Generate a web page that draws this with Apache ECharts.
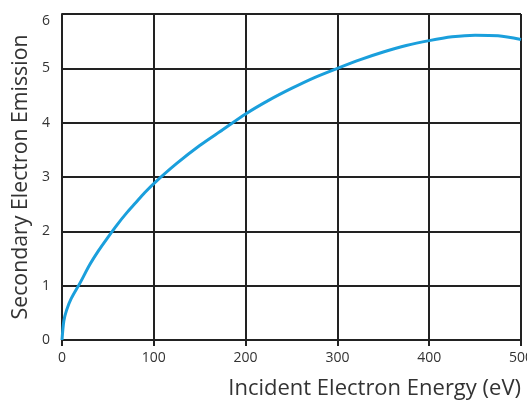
<!DOCTYPE html>
<html>
<head>
<meta charset="utf-8">
<script src="https://cdn.jsdelivr.net/npm/echarts@6/dist/echarts.min.js"></script>
<style>html,body{margin:0;padding:0;background:#fff;}#c{width:527px;height:403px;}</style>
</head>
<body>
<div id="c"></div>
<script>
const energy = [0, 2, 5, 10, 20, 30, 40, 50, 60, 70, 80, 90, 100, 125, 150, 175, 200, 225, 250, 275, 300, 325, 350, 375, 400, 425, 450, 475, 500];
const emission = [0, 0.35, 0.55, 0.76, 1.06, 1.38, 1.65, 1.89, 2.12, 2.33, 2.52, 2.71, 2.88, 3.25, 3.58, 3.87, 4.16, 4.41, 4.63, 4.83, 5.0, 5.16, 5.30, 5.42, 5.51, 5.58, 5.61, 5.60, 5.53];
const xTitle = 'Incident Electron Energy (eV)';
const yTitle = 'Secondary Electron Emission';

const chart = echarts.init(document.getElementById('c'));
const font = '"Open Sans", "Noto Sans", sans-serif';
chart.setOption({
  animation: false,
  grid: { left: 62, right: 6, top: 14, bottom: 63, containLabel: false, outerBoundsMode: 'none' },
  xAxis: {
    type: 'value', min: 0, max: 500, interval: 100,
    name: xTitle, nameLocation: 'end', nameGap: 0,
    nameTextStyle: { fontFamily: font, fontSize: 22, color: '#333', align: 'right', verticalAlign: 'top', padding: [38, 0, 0, 0] },
    axisLine: { show: true, lineStyle: { color: '#222', width: 2 } },
    axisTick: { show: true, length: 6, lineStyle: { color: '#222', width: 2 } },
    axisLabel: { fontFamily: font, fontSize: 14, color: '#333', margin: 11 },
    splitLine: { show: true, lineStyle: { color: '#222', width: 2 } }
  },
  yAxis: {
    type: 'value', min: 0, max: 6, interval: 1,
    name: yTitle, nameLocation: 'middle', nameGap: 31, nameRotate: 90, nameMoveOverlap: false,
    nameTextStyle: { fontFamily: font, fontSize: 21.3, color: '#333', verticalAlign: 'bottom' },
    axisLine: { show: true, lineStyle: { color: '#222', width: 2 } },
    axisTick: { show: false },
    axisLabel: {
      fontFamily: font, fontSize: 14, color: '#333', margin: 12,
      formatter: (v) => v === 6 ? '{t|6}' : String(v),
      rich: { t: { fontFamily: font, fontSize: 14, color: '#333', padding: [14, 0, 0, 0] } }
    },
    splitLine: { show: true, lineStyle: { color: '#222', width: 2 } }
  },
  series: [{
    type: 'line',
    data: energy.map((e, i) => [e, emission[i]]),
    smooth: 0.3,
    showSymbol: false,
    lineStyle: { color: '#1a9fdc', width: 3 },
    clip: false
  }]
});
</script>
</body>
</html>
